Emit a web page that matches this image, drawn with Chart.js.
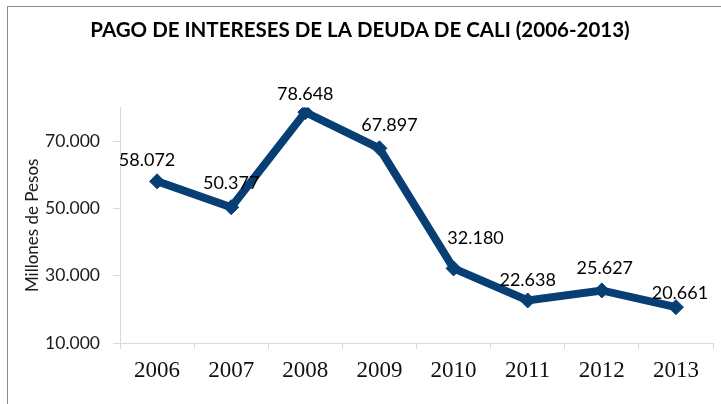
<!DOCTYPE html>
<html lang="es">
<head>
  <meta charset="UTF-8">
  <title>Pago de intereses de la deuda de Cali</title>
  <script src="https://cdn.jsdelivr.net/npm/chart.js"></script>
  <style>
    body {
      margin: 0;
      padding: 0;
      background-color: #ffffff;
      overflow: hidden;
    }
    .frame {
      position: absolute;
      left: 7px;
      top: 6px;
      width: 760px;
      height: 450px;
      border: 1px solid #8a8a8a;
      background: #ffffff;
    }
    .wrap {
      position: absolute;
      left: 7px;
      top: 0;
      width: 720px;
      height: 404px;
    }
  </style>
</head>
<body>
  <div class="frame"></div>
  <div class="wrap"><canvas id="lineChart" width="720" height="404"></canvas></div>

  <script>
    // Intereses pagados por año (millones de pesos)
    const years = ['2006', '2007', '2008', '2009', '2010', '2011', '2012', '2013'];
    const intereses = [58072, 50377, 78648, 67897, 32180, 22638, 25627, 20661];
    const yTicks = [10000, 30000, 50000, 70000];

    // little nudges so the value labels sit clear of the line
    const labelDx = [-10, 0, 0, 10, 22, 0, 3, 4];
    const labelDy = [21, 24, 18, 23, 30, 20, 22, 14];

    const navy = '#073e73';
    const axisGray = '#d9d9d9';

    function fmt(v) {
      return v.toLocaleString('de-DE');
    }

    // writes the value over each point
    const valueLabels = {
      id: 'valueLabels',
      afterDatasetsDraw(chart) {
        const ctx = chart.ctx;
        const meta = chart.getDatasetMeta(0);
        ctx.save();
        ctx.font = '18px Lato';
        ctx.fillStyle = '#000000';
        ctx.textAlign = 'center';
        ctx.textBaseline = 'middle';
        meta.data.forEach(function(pt, i) {
          ctx.fillText(fmt(intereses[i]), pt.x + labelDx[i], pt.y - labelDy[i]);
        });
        ctx.restore();
      }
    };

    const ctx = document.getElementById('lineChart').getContext('2d');
    const chart = new Chart(ctx, {
      type: 'line',
      data: {
        labels: years,
        datasets: [{
          label: 'Intereses',
          data: intereses,
          borderColor: navy,
          backgroundColor: navy,
          borderWidth: 8,
          tension: 0,
          pointStyle: 'rectRot',
          pointRadius: 7.5,
          pointBackgroundColor: navy,
          pointBorderColor: navy,
          pointBorderWidth: 1
        }]
      },
      options: {
        responsive: false,
        animation: false,
        layout: {
          padding: { left: 0, right: 14, top: 0, bottom: 0 }
        },
        plugins: {
          legend: { display: false },
          tooltip: { enabled: false },
          title: {
            display: true,
            text: 'PAGO DE INTERESES DE LA DEUDA DE CALI (2006-2013)',
            color: '#000000',
            font: { family: 'Lato', size: 20.5, weight: 'bold' },
            padding: { top: 18, bottom: 65 }
          }
        },
        scales: {
          x: {
            offset: true,
            grid: {
              offset: true,
              drawOnChartArea: false,
              drawTicks: true,
              tickLength: 6,
              color: axisGray
            },
            border: { display: true, color: axisGray, width: 1 },
            ticks: {
              color: '#111111',
              font: { family: 'Liberation Serif', size: 23 },
              padding: 8,
              maxRotation: 0
            },
            afterFit(scale) { scale.height = 61; }
          },
          y: {
            min: 10000,
            max: 80000,
            grid: {
              drawOnChartArea: false,
              drawTicks: true,
              tickLength: 7,
              color: axisGray
            },
            border: { display: true, color: axisGray, width: 1 },
            afterBuildTicks(scale) {
              scale.ticks = yTicks.map(v => ({ value: v }));
            },
            ticks: {
              color: '#1a1a1a',
              font: { family: 'Lato', size: 17.5 },
              padding: 13,
              callback: v => fmt(v)
            },
            title: {
              display: true,
              text: 'Millones de Pesos',
              color: '#1a1a1a',
              font: { family: 'Lato', size: 17 },
              padding: { top: 15, bottom: 0 }
            },
            afterFit(scale) { scale.width = 113; }
          }
        }
      },
      plugins: [valueLabels]
    });
  </script>
</body>
</html>
